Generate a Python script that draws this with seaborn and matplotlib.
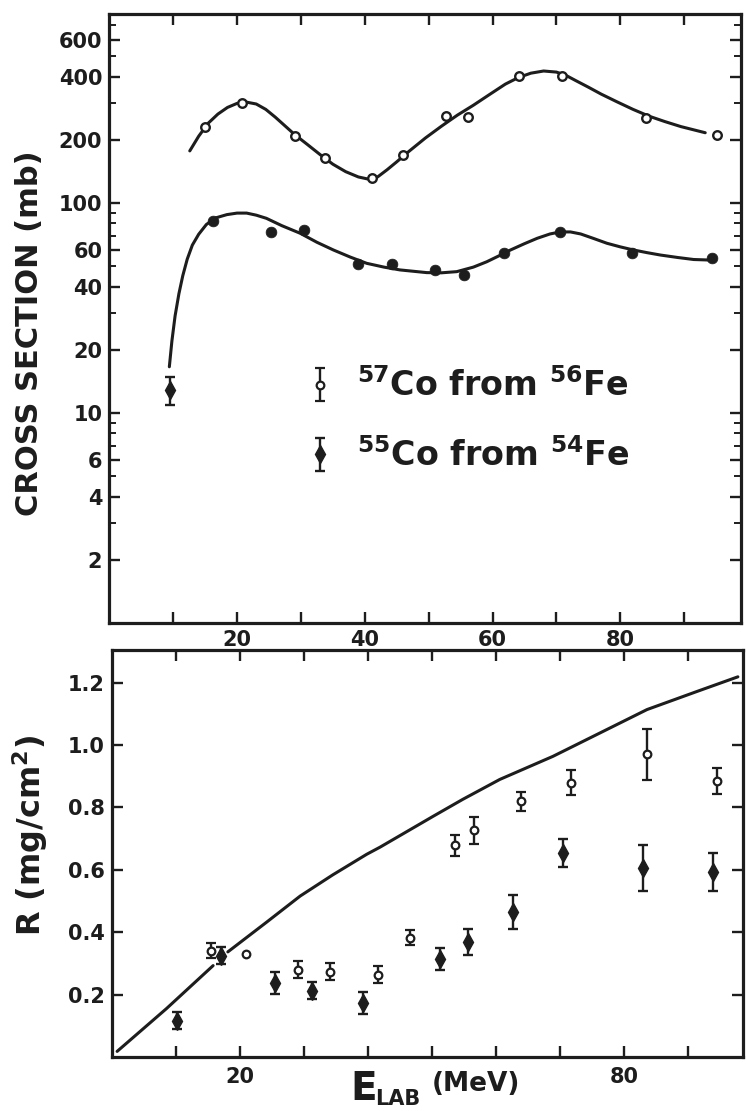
import numpy as np
import pandas as pd
import matplotlib
matplotlib.use("Agg")
import matplotlib.pyplot as plt
from matplotlib.ticker import FixedLocator, FixedFormatter, NullFormatter
import seaborn as sns

# ---------------- excitation functions (cross section, mb) ----------------
co57_e = [15.0, 20.8, 29.1, 33.8, 41.1, 46.0, 52.7, 56.2, 64.2, 70.8, 84.1, 95.1]
co57_xs = [230, 299, 208, 164, 131, 169, 260, 257, 402, 402, 254, 211]

co55_e = [16.3, 25.3, 30.5, 39.0, 44.2, 51.0, 55.6, 61.8, 70.5, 81.9, 94.3]
co55_xs = [82, 73, 74, 51, 51, 48, 45.4, 58, 73, 58, 55]

# near-threshold 55Co point with its uncertainty
co55_thr_e = [9.5]
co55_thr_xs = [12.9]
co55_thr_err_lo = [2.0]
co55_thr_err_hi = [2.0]

# hand-drawn guide curves through the excitation functions
co57_fit_e = [12.6, 14.0, 15.5, 17.0, 18.5, 20.0, 21.5, 23.0, 24.5, 26.0, 27.5,
              29.0, 31.0, 33.0, 35.0, 37.0, 39.0, 40.5, 42.0, 43.5, 45.0, 47.0,
              49.5, 52.0, 54.5, 57.0, 59.5, 62.0, 64.0, 66.0, 68.0, 70.0, 71.5,
              73.0, 75.0, 77.0, 79.5, 82.0, 84.5, 87.0, 89.5, 92.0, 93.3]
co57_fit_xs = [177, 208, 240, 265, 285, 298, 302, 296, 279, 256, 233,
               212, 190, 170, 153, 141, 133, 130, 133, 144, 157, 177,
               204, 232, 262, 292, 328, 368, 395, 415, 425, 420, 405,
               383, 356, 330, 303, 279, 259, 244, 231, 221, 216]

co55_fit_e = [9.4, 9.8, 10.3, 10.9, 11.5, 12.2, 13.0, 14.0, 15.2, 16.7, 18.4,
              20.0, 21.5, 23.0, 24.6, 27.0, 29.9, 32.5, 35.1, 37.7, 40.3, 43.0,
              45.5, 49.7, 52.0, 54.4, 57.0, 59.1, 61.0, 62.8, 65.0, 67.0, 69.0,
              70.6, 72.2, 73.8, 75.8, 77.9, 80.0, 82.1, 84.2, 86.3, 89.0, 91.5, 93.9]
co55_fit_xs = [16.6, 22, 29, 37, 45, 54, 63, 71, 79, 85, 88,
               89.5, 89.5, 87.5, 84.5, 78, 71.7, 65, 59.7, 55.3, 51.6, 49.5,
               48.0, 46.6, 46.5, 47.1, 49.5, 52.5, 56, 59.7, 64, 67.9, 71.2,
               72.8, 72.8, 71.2, 67.8, 64.3, 61.8, 59.7, 58, 56.5, 55, 53.8, 53.5]

# ---------------- recoil ranges R (mg/cm^2) ----------------
r57_e = [15.5, 20.9, 29.1, 34.1, 41.6, 46.6, 53.6, 56.6, 63.9, 71.7, 83.6, 94.5]
r57_val = [0.341, 0.331, 0.280, 0.274, 0.264, 0.382, 0.679, 0.727, 0.820, 0.880, 0.970, 0.884]
r57_err = [0.024, 0.0, 0.027, 0.027, 0.027, 0.024, 0.034, 0.043, 0.030, 0.040, 0.083, 0.042]

r55_e = [10.2, 17.0, 25.5, 31.3, 39.2, 51.3, 55.6, 62.7, 70.5, 83.0, 93.9]
r55_val = [0.117, 0.325, 0.238, 0.213, 0.174, 0.315, 0.369, 0.465, 0.654, 0.606, 0.593]
r55_err = [0.028, 0.027, 0.035, 0.027, 0.035, 0.035, 0.043, 0.053, 0.045, 0.073, 0.062]

# calculated full-momentum-transfer range (two pieces, broken behind the 17 MeV points)
range_seg = [0, 0, 0, 1, 1, 1, 1, 1, 1, 1, 1, 1, 1, 1, 1, 1]
range_e = [0.8, 8.5, 15.8, 18.1, 24.2, 29.4, 34.5, 39.8, 41.9, 50.2, 54.8, 60.6, 68.9, 83.6, 91.4, 97.8]
range_val = [0.018, 0.155, 0.293, 0.337, 0.433, 0.516, 0.584, 0.650, 0.673, 0.772, 0.826,
             0.890, 0.964, 1.114, 1.172, 1.219]

xs_ticks = [2, 4, 6, 10, 20, 40, 60, 100, 200, 400, 600]
xs_minor = [3, 5, 7, 8, 9, 30, 50, 70, 80, 90, 300, 500, 700]
e_ticks = [10, 20, 30, 40, 50, 60, 70, 80, 90]
e_labels_top = ["", "20", "", "40", "", "60", "", "80", ""]
e_labels_bot = ["", "20", "", "", "", "", "", "80", ""]
r_ticks = [0.2, 0.4, 0.6, 0.8, 1.0, 1.2]

INK = "#1d1d1d"

sns.set_style("ticks")
plt.rcParams["font.family"] = ["DejaVu Sans"]
plt.rcParams["font.weight"] = "bold"
plt.rcParams["mathtext.fontset"] = "dejavusans"
plt.rcParams["text.color"] = INK
plt.rcParams["xtick.color"] = INK
plt.rcParams["ytick.color"] = INK

fig = plt.figure(figsize=(7.46, 11.11), dpi=100)
W, H = 746.0, 1111.0


def px_axes(left, top, right, bottom):
    return [left / W, 1 - bottom / H, (right - left) / W, (bottom - top) / H]


ax1 = fig.add_axes(px_axes(109.3, 14, 741, 623))
ax2 = fig.add_axes(px_axes(112, 650, 743, 1057))

for ax in (ax1, ax2):
    for sp in ax.spines.values():
        sp.set_linewidth(2.3)
        sp.set_color(INK)
    ax.tick_params(which="major", direction="in", length=8, width=1.7,
                   top=True, right=True, labelsize=15, pad=5)
    ax.tick_params(which="minor", direction="in", length=5, width=1.4,
                   top=True, right=True)
    ax.set_facecolor("white")

# ---------------- top: cross sections ----------------
ax1.set_yscale("log")
ax1.set_xlim(0, 98.9)
ax1.set_ylim(1, 794)

sns.lineplot(data=pd.DataFrame({"E": co57_fit_e, "xs": co57_fit_xs}), x="E", y="xs",
             ax=ax1, color=INK, lw=2.2, sort=False, estimator=None)
sns.lineplot(data=pd.DataFrame({"E": co55_fit_e, "xs": co55_fit_xs}), x="E", y="xs",
             ax=ax1, color=INK, lw=2.2, sort=False, estimator=None)
sns.scatterplot(x=co57_e, y=co57_xs, ax=ax1, marker="o", s=38, color="white",
                edgecolor=INK, linewidth=1.7, zorder=4)
sns.scatterplot(x=co55_e, y=co55_xs, ax=ax1, marker="o", s=60, color=INK,
                edgecolor=INK, linewidth=0.5, zorder=4)
ax1.errorbar(co55_thr_e, co55_thr_xs, yerr=[co55_thr_err_lo, co55_thr_err_hi],
             fmt="d", ms=9, mfc=INK, mec=INK, ecolor=INK, elinewidth=1.7,
             capsize=3.5, capthick=1.7, zorder=4)

ax1.yaxis.set_major_locator(FixedLocator(xs_ticks))
ax1.yaxis.set_major_formatter(FixedFormatter([str(t) for t in xs_ticks]))
ax1.yaxis.set_minor_locator(FixedLocator(xs_minor))
ax1.yaxis.set_minor_formatter(NullFormatter())
ax1.xaxis.set_major_locator(FixedLocator(e_ticks))
ax1.xaxis.set_major_formatter(FixedFormatter(e_labels_top))
ax1.set_xlabel("")
ax1.set_ylabel("")

# ---------------- bottom: ranges ----------------
ax2.set_xlim(0, 98.6)
ax2.set_ylim(0, 1.305)

sns.lineplot(data=pd.DataFrame({"E": range_e, "R": range_val, "seg": range_seg}),
             x="E", y="R", units="seg", ax=ax2, color=INK, lw=2.2, sort=False,
             estimator=None)

r57 = pd.DataFrame({"E": r57_e, "R": r57_val, "err": r57_err})
r55 = pd.DataFrame({"E": r55_e, "R": r55_val, "err": r55_err})
with_bar = r57[r57.err > 0]
no_bar = r57[r57.err == 0]

eb_open = ax2.errorbar(with_bar.E, with_bar.R, yerr=with_bar.err, fmt="o", ms=5.5,
                       mfc="white", mec=INK, mew=1.6, ecolor=INK, elinewidth=1.7,
                       capsize=3.5, capthick=1.7, zorder=4)
sns.scatterplot(data=no_bar, x="E", y="R", ax=ax2, marker="o", s=30, color="white",
                edgecolor=INK, linewidth=1.6, zorder=4)
eb_fill = ax2.errorbar(r55.E, r55.R, yerr=r55.err, fmt="d", ms=9, mfc=INK, mec=INK,
                       ecolor=INK, elinewidth=1.7, capsize=3.5, capthick=1.7, zorder=4)

ax2.yaxis.set_major_locator(FixedLocator(r_ticks))
ax2.yaxis.set_major_formatter(FixedFormatter([f"{t:.1f}" for t in r_ticks]))
ax2.xaxis.set_major_locator(FixedLocator(e_ticks))
ax2.xaxis.set_major_formatter(FixedFormatter(e_labels_bot))
ax2.tick_params(axis="x", pad=7)
ax2.set_xlabel("")
ax2.set_ylabel("")

# legend inside the cross-section panel
ax1.legend(handles=[eb_open, eb_fill],
           labels=[r"$^{\mathbf{57}}$Co from $^{\mathbf{56}}$Fe",
                   r"$^{\mathbf{55}}$Co from $^{\mathbf{54}}$Fe"],
           loc="upper left", bbox_to_anchor=(0.305, 0.418), frameon=False,
           fontsize=24, handlelength=1.1, handletextpad=0.55, labelspacing=1.05,
           borderpad=0, borderaxespad=0)

# axis titles
fig.text(30 / W, 1 - 333 / H, "CROSS SECTION (mb)", rotation=90, ha="center",
         va="center", fontsize=22, fontweight="bold")
fig.text(30 / W, 1 - 835 / H, r"R (mg/cm$^{\mathbf{2}}$)", rotation=90, ha="center",
         va="center", fontsize=23, fontweight="bold")
fig.text(350 / W, (H - 1100) / H, "E", ha="left", va="baseline", fontsize=28,
         fontweight="bold")
fig.text(375 / W, (H - 1105) / H, "LAB", ha="left", va="baseline", fontsize=15,
         fontweight="bold")
fig.text(432 / W, (H - 1091) / H, "(MeV)", ha="left", va="baseline", fontsize=19,
         fontweight="bold")

fig.savefig("out.png", dpi=100, facecolor="white")
